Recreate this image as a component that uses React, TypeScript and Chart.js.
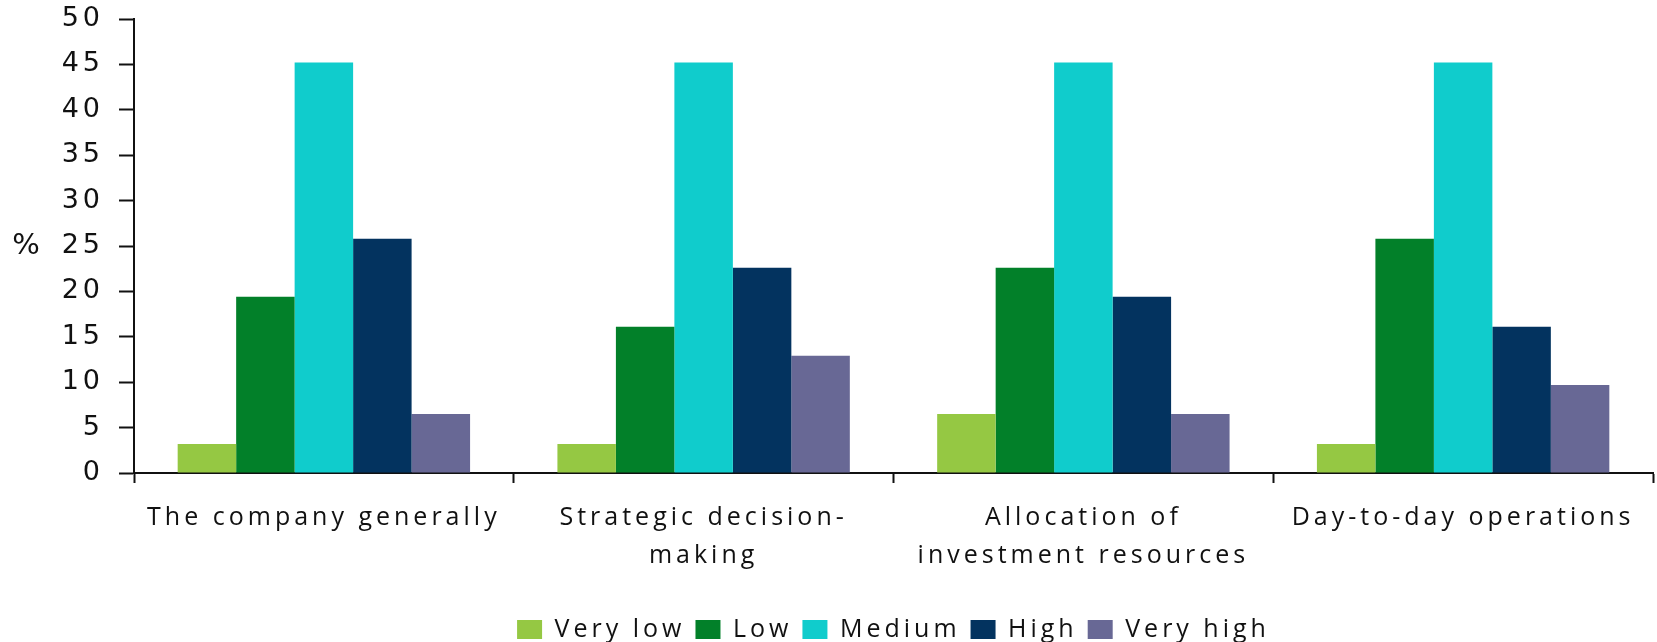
import React, { useEffect, useRef } from "react";
import { Chart, registerables } from "chart.js";

Chart.register(...registerables);

const categories: string[][] = [
  ["The company generally"],
  ["Strategic decision-", "making"],
  ["Allocation of", "investment resources"],
  ["Day-to-day operations"],
];
const seriesNames = ["Very low", "Low", "Medium", "High", "Very high"];
const veryLow = [3.2, 3.2, 6.5, 3.2];
const low = [19.4, 16.1, 22.6, 25.8];
const medium = [45.2, 45.2, 45.2, 45.2];
const high = [25.8, 22.6, 19.4, 16.1];
const veryHigh = [6.5, 12.9, 6.5, 9.7];
const colors = ["#95c843", "#028029", "#10cccc", "#03335f", "#686895"];
const yMin = 0;
const yMax = 50;
const yStep = 5;
const yTitle = "%";
const yTitleValue = 25;

const spacingPlugin = {
  id: "letterSpacing",
  beforeUpdate(chart: any) {
    chart.ctx.letterSpacing = "4px";
  },
  beforeDraw(chart: any) {
    chart.ctx.letterSpacing = "4px";
  },
};

const percentPlugin = {
  id: "percentTitle",
  afterDraw(chart: any) {
    const ctx = chart.ctx;
    const y = chart.scales.y.getPixelForValue(yTitleValue);
    ctx.save();
    ctx.letterSpacing = "0px";
    ctx.font = "29px 'DejaVu Sans'";
    ctx.fillStyle = "#111";
    ctx.textAlign = "center";
    ctx.textBaseline = "middle";
    ctx.fillText(yTitle, 26, y);
    ctx.restore();
  },
};

export default function App() {
  const ref = useRef<HTMLCanvasElement | null>(null);
  useEffect(() => {
    if (!ref.current) return;
    const values = [veryLow, low, medium, high, veryHigh];
    const chart = new Chart(ref.current, {
      type: "bar",
      data: {
        labels: categories,
        datasets: seriesNames.map((name, i) => ({
          label: name,
          data: values[i],
          backgroundColor: colors[i],
          borderWidth: 0,
          categoryPercentage: 0.77,
          barPercentage: 1,
        })),
      },
      options: {
        animation: false,
        responsive: true,
        maintainAspectRatio: false,
        layout: { padding: { top: 19, right: 4, bottom: -10, left: 0 } },
        plugins: {
          tooltip: { enabled: false },
          legend: {
            position: "bottom",
            fullSize: false,
            labels: {
              boxWidth: 25,
              boxHeight: 19,
              padding: 10,
              color: "#111",
              font: { family: "'Open Sans'", size: 25 },
            },
          },
        },
        scales: {
          x: {
            grid: {
              display: true,
              drawOnChartArea: false,
              drawTicks: true,
              tickLength: 10,
              tickWidth: 2,
              tickColor: "#111",
              offset: true,
            },
            border: { display: true, color: "#111", width: 2 },
            ticks: {
              padding: 16,
              color: "#111",
              maxRotation: 0,
              autoSkip: false,
              font: { family: "'Open Sans'", size: 25, lineHeight: 1.52 },
            },
            afterFit: (s: any) => {
              s.height = 134;
            },
          },
          y: {
            min: yMin,
            max: yMax,
            grid: {
              display: true,
              drawOnChartArea: false,
              drawTicks: true,
              tickLength: 15,
              tickWidth: 2,
              tickColor: "#111",
            },
            border: { display: true, color: "#111", width: 2 },
            ticks: {
              stepSize: yStep,
              padding: 15,
              color: "#111",
              font: { family: "'DejaVu Sans'", size: 27 },
            },
            afterFit: (s: any) => {
              s.width = 134;
              s.paddingTop = 0;
            },
          },
        },
      },
      plugins: [spacingPlugin, percentPlugin],
    });
    return () => chart.destroy();
  }, []);
  return (
    <div
      style={{
        position: "absolute",
        left: 0,
        top: 0,
        width: "1657px",
        height: "642px",
        background: "#fff",
      }}
    >
      <canvas ref={ref} />
    </div>
  );
}
